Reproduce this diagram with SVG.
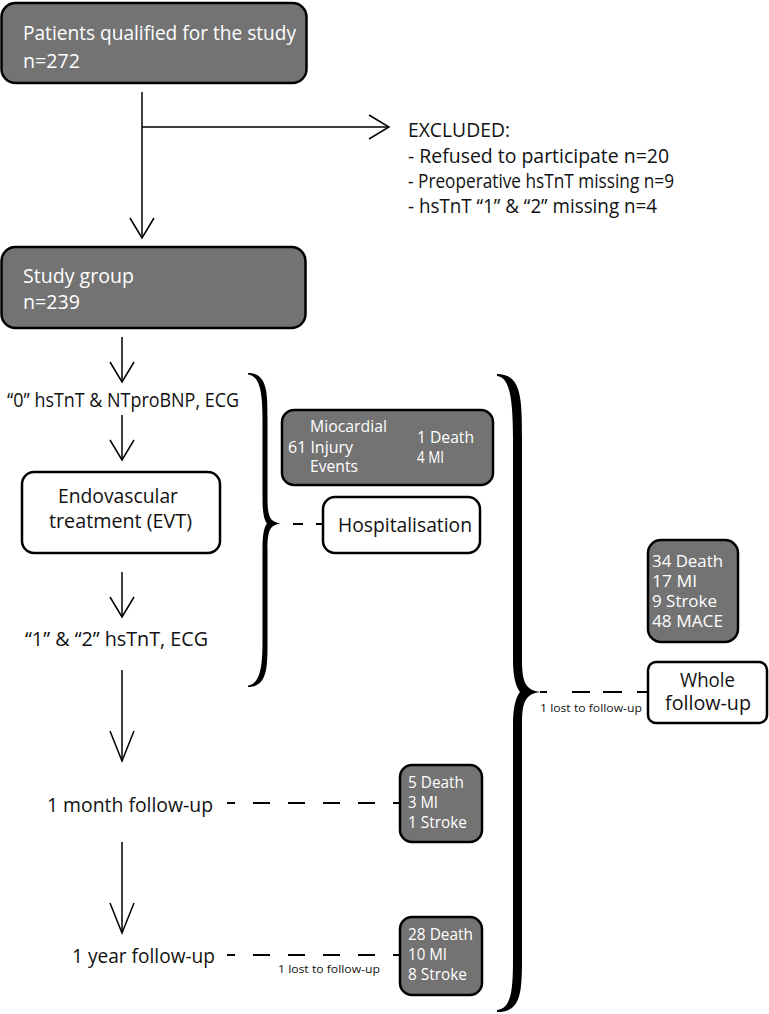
<svg xmlns="http://www.w3.org/2000/svg" width="769" height="1014" viewBox="0 0 769 1014">
<style>
  text { font-family: "Open Sans", "Noto Sans", "DejaVu Sans", sans-serif; }
  .main { font-size: 19.5px; fill: #111; }
  .inv { font-size: 19.5px; fill: #fff; }
  .ev { font-size: 16.5px; fill: #fff; }
  .small { font-size: 11px; fill: #111; }
  .gbox { fill: #737373; stroke: #000; stroke-width: 2.5; }
  .wbox { fill: #fff; stroke: #000; stroke-width: 2.5; }
  .line { fill: none; stroke: #000; stroke-width: 1.5; }
  .dash { fill: none; stroke: #000; stroke-width: 1.8; }
  .brace { fill: #000; stroke: none; }
</style>
<defs>
  <marker id="head" viewBox="-23 -14 26 28" markerWidth="26" markerHeight="28" refX="0" refY="0" orient="auto" markerUnits="userSpaceOnUse" overflow="visible">
    <path d="M-20,-12 L0,0 L-20,12" fill="none" stroke="#000" stroke-width="1.5"/>
  </marker>
  <marker id="headLong" viewBox="-33 -14 36 28" markerWidth="36" markerHeight="28" refX="0" refY="0" orient="auto" markerUnits="userSpaceOnUse" overflow="visible">
    <path d="M-30,-12 L0,0 L-30,12" fill="none" stroke="#000" stroke-width="1.5"/>
  </marker>
</defs>
<rect width="769" height="1014" fill="#fff"/>

<g id="connectors">
  <path class="line" d="M142,92 V238" marker-end="url(#head)"/>
  <path class="line" d="M142,127 H389" marker-end="url(#head)"/>
  <path class="line" d="M122,337 V382" marker-end="url(#head)"/>
  <path class="line" d="M122,415 V460" marker-end="url(#head)"/>
  <path class="line" d="M122,572 V617" marker-end="url(#head)"/>
  <path class="line" d="M122,670 V761" marker-end="url(#headLong)"/>
  <path class="line" d="M122,842 V933" marker-end="url(#headLong)"/>
  <path class="dash" d="M293,524 H323" stroke-dasharray="10 13"/>
  <path class="dash" d="M540,692 H648" stroke-width="2.2" stroke-dasharray="7 25 18 13 19 15 11"/>
  <path class="dash" d="M227,803 H400" stroke-dasharray="17 18" stroke-dashoffset="9"/>
  <path class="dash" d="M227,955 H400" stroke-dasharray="17 18" stroke-dashoffset="9"/>
  <path id="brace-small" class="brace" d="M248,373 C267.5,373 267.5,393 267.5,418 L267.5,498 C267.5,517 270,522 281,523.5 C270,525 267.5,530 267.5,549 L267.5,642 C267.5,667 267.5,687 248,687 L248,685.5 C260,684 262.5,667 262.5,642 L262.5,549 C262.5,535 264,527 267,523.5 C264,520 262.5,512 262.5,498 L262.5,418 C262.5,393 260,376 248,374.5 Z"/>
  <path id="brace-big" class="brace" d="M497,374 C522,374 522,400 522,440 L522,660 C522,683 526,690 540,692 C526,694 522,701 522,724 L522,960 C522,995 520,1012 497,1012 L497,1010 C510,1008 513,995 513,960 L513,724 C513,707 516,697 520,692 C516,687 513,677 513,660 L513,440 C513,400 510,377 497,376 Z"/>
</g>

<g id="n-qualified">
  <rect class="gbox" x="1.5" y="3" width="305" height="80" rx="14"/>
  <text class="inv" x="23" y="40" textLength="273" lengthAdjust="spacingAndGlyphs">Patients qualified for the study</text>
  <text class="inv" x="23" y="68" textLength="57" lengthAdjust="spacingAndGlyphs">n=272</text>
</g>

<g id="n-excluded">
  <text class="main" x="408" y="137" textLength="102" lengthAdjust="spacingAndGlyphs">EXCLUDED:</text>
  <text class="main" x="408" y="163" textLength="261" lengthAdjust="spacingAndGlyphs">- Refused to participate n=20</text>
  <text class="main" x="408" y="188" textLength="266" lengthAdjust="spacingAndGlyphs">- Preoperative hsTnT missing n=9</text>
  <text class="main" x="408" y="213" textLength="249" lengthAdjust="spacingAndGlyphs">- hsTnT “1” &amp; “2” missing n=4</text>
</g>

<g id="n-study">
  <rect class="gbox" x="1.5" y="247" width="304" height="81" rx="14"/>
  <text class="inv" x="23" y="283" textLength="111" lengthAdjust="spacingAndGlyphs">Study group</text>
  <text class="inv" x="23" y="309" textLength="57" lengthAdjust="spacingAndGlyphs">n=239</text>
</g>

<g id="n-zero">
  <text class="main" x="7" y="407" textLength="232" lengthAdjust="spacingAndGlyphs">“0” hsTnT &amp; NTproBNP, ECG</text>
</g>

<g id="n-evt">
  <rect class="wbox" x="22" y="472" width="198" height="81" rx="12"/>
  <text class="main" x="58" y="503" textLength="120" lengthAdjust="spacingAndGlyphs">Endovascular</text>
  <text class="main" x="49" y="528" textLength="143" lengthAdjust="spacingAndGlyphs">treatment (EVT)</text>
</g>

<g id="n-one-two">
  <text class="main" x="25" y="646" textLength="183" lengthAdjust="spacingAndGlyphs">“1”  &amp; “2” hsTnT, ECG</text>
</g>

<g id="n-injury">
  <rect class="gbox" x="282" y="410" width="211" height="75" rx="12"/>
  <text class="ev" x="310" y="432" textLength="77" lengthAdjust="spacingAndGlyphs">Miocardial</text>
  <text class="ev" x="288" y="453" textLength="65" lengthAdjust="spacingAndGlyphs">61 Injury</text>
  <text class="ev" x="310" y="472" textLength="48" lengthAdjust="spacingAndGlyphs">Events</text>
  <text class="ev" x="417" y="443" textLength="57" lengthAdjust="spacingAndGlyphs">1 Death</text>
  <text class="ev" x="417" y="463" textLength="27" lengthAdjust="spacingAndGlyphs">4 MI</text>
</g>

<g id="n-hosp">
  <rect class="wbox" x="323" y="497" width="157" height="56" rx="12"/>
  <text class="main" x="338" y="532" textLength="134" lengthAdjust="spacingAndGlyphs">Hospitalisation</text>
</g>

<g id="n-whole-events">
  <rect class="gbox" x="648" y="540" width="90" height="102" rx="13"/>
  <text class="ev" x="652" y="567" textLength="71" lengthAdjust="spacingAndGlyphs">34 Death</text>
  <text class="ev" x="652" y="587" textLength="45" lengthAdjust="spacingAndGlyphs">17 MI</text>
  <text class="ev" x="652" y="607" textLength="65" lengthAdjust="spacingAndGlyphs">9 Stroke</text>
  <text class="ev" x="652" y="627" textLength="71" lengthAdjust="spacingAndGlyphs">48 MACE</text>
</g>

<g id="n-whole">
  <rect class="wbox" x="648" y="662" width="119" height="61" rx="8"/>
  <text class="main" x="680" y="687" textLength="55" lengthAdjust="spacingAndGlyphs">Whole</text>
  <text class="main" x="665" y="710" textLength="86" lengthAdjust="spacingAndGlyphs">follow-up</text>
  <text class="small" x="540" y="712" textLength="102" lengthAdjust="spacingAndGlyphs">1 lost to follow-up</text>
</g>

<g id="n-month">
  <text class="main" x="47" y="812" textLength="166" lengthAdjust="spacingAndGlyphs">1 month follow-up</text>
</g>

<g id="n-month-events">
  <rect class="gbox" x="400" y="765" width="82" height="77" rx="12"/>
  <text class="ev" x="408" y="788" textLength="56" lengthAdjust="spacingAndGlyphs">5 Death</text>
  <text class="ev" x="408" y="808" textLength="30" lengthAdjust="spacingAndGlyphs">3 MI</text>
  <text class="ev" x="408" y="828" textLength="59" lengthAdjust="spacingAndGlyphs">1 Stroke</text>
</g>

<g id="n-year">
  <text class="main" x="72" y="963" textLength="143" lengthAdjust="spacingAndGlyphs">1 year follow-up</text>
  <text class="small" x="278" y="973" textLength="102" lengthAdjust="spacingAndGlyphs">1 lost to follow-up</text>
</g>

<g id="n-year-events">
  <rect class="gbox" x="400" y="917" width="82" height="78" rx="12"/>
  <text class="ev" x="408" y="940" textLength="65" lengthAdjust="spacingAndGlyphs">28 Death</text>
  <text class="ev" x="408" y="960" textLength="39" lengthAdjust="spacingAndGlyphs">10 MI</text>
  <text class="ev" x="408" y="980" textLength="59" lengthAdjust="spacingAndGlyphs">8 Stroke</text>
</g>
</svg>
